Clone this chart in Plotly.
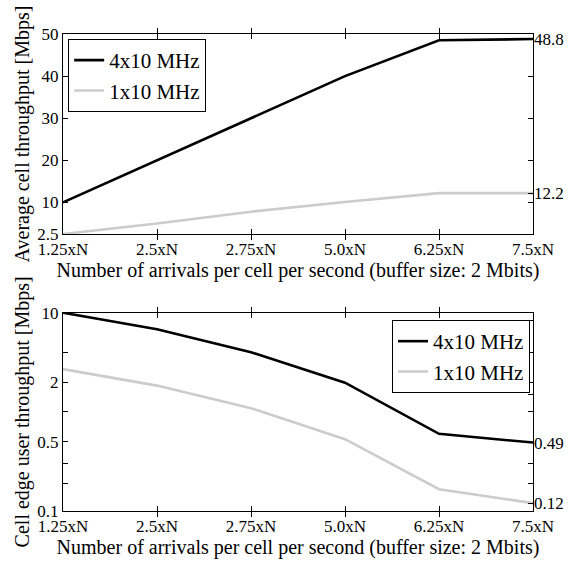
import plotly.graph_objects as go

categories = ["1.25xN", "2.5xN", "2.75xN", "5.0xN", "6.25xN", "7.5xN"]
avg_4x10 = [10.0, 20.0, 30.0, 40.0, 48.5, 48.8]
avg_1x10 = [2.5, 5.0, 7.8, 10.1, 12.2, 12.2]
edge_4x10 = [10.0, 6.8, 4.0, 1.97, 0.6, 0.49]
edge_1x10 = [2.7, 1.84, 1.09, 0.53, 0.166, 0.12]

top_left_ticks = [2.5, 10, 20, 30, 40, 50]
top_right_ticks = [10, 20, 30, 40, 12.2, 48.8]
top_right_text = ["", "", "", "", "12.2", "48.8"]
bot_left_ticks = [0.1, 0.19, 0.3, 0.5, 1, 2, 4, 10]
bot_left_text = ["0.1", "", "", "0.5", "", "2", "", "10"]
bot_right_ticks = [0.12, 0.19, 0.3, 0.49, 1, 1.5, 2, 4, 8.3]
bot_right_text = ["0.12", "", "", "0.49", "", "", "", "", ""]

FONT = "Liberation Serif"
BLACK = "#000000"
GRAY = "#cccccc"
LW = 2.6
TICK_SIZE = 17
TITLE_SIZE = 20
LEG_SIZE = 21

fig = go.Figure()
fig.add_trace(go.Scatter(x=categories, y=avg_4x10, mode="lines", name="4x10 MHz",
                         line=dict(color=BLACK, width=LW), xaxis="x", yaxis="y", legend="legend"))
fig.add_trace(go.Scatter(x=categories, y=avg_1x10, mode="lines", name="1x10 MHz",
                         line=dict(color=GRAY, width=LW), xaxis="x", yaxis="y", legend="legend"))
fig.add_trace(go.Scatter(x=categories, y=edge_4x10, mode="lines", name="4x10 MHz",
                         line=dict(color=BLACK, width=LW), xaxis="x2", yaxis="y3", legend="legend2"))
fig.add_trace(go.Scatter(x=categories, y=edge_1x10, mode="lines", name="1x10 MHz",
                         line=dict(color=GRAY, width=LW), xaxis="x2", yaxis="y3", legend="legend2"))
# invisible carriers so the right-hand axes are drawn
fig.add_trace(go.Scatter(x=categories, y=avg_4x10, mode="lines", line=dict(width=0, color="rgba(0,0,0,0)"),
                         xaxis="x", yaxis="y2", showlegend=False, hoverinfo="skip"))
fig.add_trace(go.Scatter(x=categories, y=edge_4x10, mode="lines", line=dict(width=0, color="rgba(0,0,0,0)"),
                         xaxis="x2", yaxis="y4", showlegend=False, hoverinfo="skip"))

xtitle = "Number of arrivals per cell per second (buffer size: 2 Mbits)"
axis_common = dict(showline=True, linecolor=BLACK, linewidth=1, ticks="inside", ticklen=5,
                   tickcolor=BLACK, showgrid=False, zeroline=False, automargin=False,
                   tickfont=dict(family=FONT, size=TICK_SIZE, color=BLACK))

top_dom = [0.5807, 1.0]
bot_dom = [0.0, 0.4157]
tfont = dict(family=FONT, size=TITLE_SIZE, color=BLACK)

fig.update_layout(
    width=574, height=562,
    margin=dict(l=63, r=41, t=34, b=51, autoexpand=False),
    paper_bgcolor="white", plot_bgcolor="white",
    font=dict(family=FONT, size=16, color=BLACK),
    xaxis=dict(domain=[0, 1], anchor="y", type="category", range=[0, 5], mirror="allticks",
               title=dict(text=xtitle, standoff=0, font=tfont), **axis_common),
    yaxis=dict(domain=top_dom, anchor="x", range=[2.5, 50], tickmode="array", tickvals=top_left_ticks,
               mirror=True,
               title=dict(text="Average cell throughput [Mbps]", standoff=2, font=tfont),
               **axis_common),
    yaxis2=dict(overlaying="y", side="right", anchor="x", range=[2.5, 50], tickmode="array",
                tickvals=top_right_ticks, ticktext=top_right_text,
                **{**axis_common, "showline": False}),
    xaxis2=dict(domain=[0, 1], anchor="y3", type="category", range=[0, 5], mirror="allticks",
                title=dict(text=xtitle, standoff=0, font=tfont), **axis_common),
    yaxis3=dict(domain=bot_dom, anchor="x2", type="log", range=[-1, 1], tickmode="array",
                tickvals=bot_left_ticks, ticktext=bot_left_text, mirror=True,
                title=dict(text="Cell edge user throughput [Mbps]", standoff=2, font=tfont),
                **axis_common),
    yaxis4=dict(overlaying="y3", side="right", anchor="x2", type="log", range=[-1, 1], tickmode="array",
                tickvals=bot_right_ticks, ticktext=bot_right_text,
                **{**axis_common, "showline": False}),
    legend=dict(x=0.011, y=0.9895, xanchor="left", yanchor="top", bgcolor="white",
                bordercolor=BLACK, borderwidth=1, font=dict(family=FONT, size=LEG_SIZE),
                tracegroupgap=0, itemwidth=30),
    legend2=dict(x=0.9936, y=0.4004, xanchor="right", yanchor="top", bgcolor="white",
                 bordercolor=BLACK, borderwidth=1, font=dict(family=FONT, size=LEG_SIZE),
                 tracegroupgap=0, itemwidth=30),
)

fig.write_html("out.html", config={"displayModeBar": False},
               post_script="document.body.style.margin='0px';")
